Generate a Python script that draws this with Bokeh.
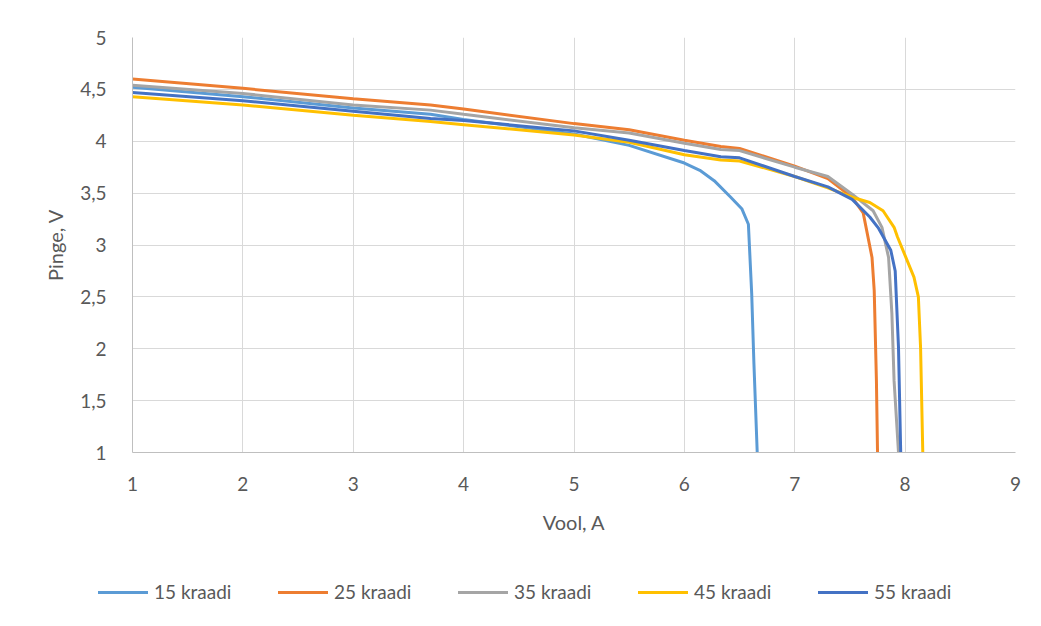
from bokeh.plotting import figure
from bokeh.models import FixedTicker, Range1d, Div
from bokeh.layouts import column
from bokeh.embed import file_html
from bokeh.resources import INLINE

series_names = ["15 kraadi", "25 kraadi", "35 kraadi", "45 kraadi", "55 kraadi"]
colors = ["#5B9BD5", "#ED7D31", "#A5A5A5", "#FFC000", "#4472C4"]

x15 = [1, 2, 3, 3.7, 4, 5, 5.5, 6, 6.14, 6.27, 6.42, 6.52, 6.58, 6.61, 6.63, 6.66]
y15 = [4.52, 4.43, 4.32, 4.26, 4.21, 4.07, 3.96, 3.79, 3.72, 3.62, 3.46, 3.35, 3.20, 2.53, 1.86, 1.0]

x25 = [1, 2, 3, 3.7, 4, 5, 5.5, 6, 6.33, 6.5, 7, 7.3, 7.52, 7.62, 7.70, 7.72, 7.74, 7.75]
y25 = [4.60, 4.51, 4.41, 4.35, 4.31, 4.17, 4.11, 4.01, 3.95, 3.93, 3.76, 3.64, 3.46, 3.31, 2.88, 2.56, 1.69, 1.0]

x35 = [1, 2, 3, 3.7, 4, 5, 5.5, 6, 6.33, 6.5, 7, 7.3, 7.52, 7.71, 7.79, 7.85, 7.88, 7.90, 7.94]
y35 = [4.54, 4.46, 4.35, 4.30, 4.26, 4.13, 4.08, 3.98, 3.92, 3.91, 3.75, 3.66, 3.49, 3.33, 3.17, 2.88, 2.34, 1.69, 1.0]

x45 = [1, 2, 3, 3.7, 4, 5, 5.5, 6, 6.33, 6.5, 7, 7.3, 7.52, 7.68, 7.80, 7.90, 7.93, 8.08, 8.12, 8.14, 8.16]
y45 = [4.43, 4.35, 4.25, 4.19, 4.16, 4.06, 3.99, 3.87, 3.82, 3.81, 3.66, 3.55, 3.46, 3.41, 3.33, 3.17, 3.08, 2.69, 2.50, 2.01, 1.0]

x55 = [1, 2, 3, 3.7, 4, 5, 5.5, 6, 6.33, 6.5, 7, 7.3, 7.52, 7.68, 7.76, 7.87, 7.91, 7.94, 7.96]
y55 = [4.47, 4.39, 4.29, 4.22, 4.20, 4.10, 4.01, 3.91, 3.85, 3.84, 3.66, 3.56, 3.44, 3.27, 3.16, 2.95, 2.75, 2.01, 1.0]

x_ticks = [1, 2, 3, 4, 5, 6, 7, 8, 9]
y_ticks = [1, 1.5, 2, 2.5, 3, 3.5, 4, 4.5, 5]
y_tick_labels = ["1", "1,5", "2", "2,5", "3", "3,5", "4", "4,5", "5"]

FONT = "Lato"
TXT = "#595959"

p = figure(width=1041, height=540, output_backend="svg", toolbar_location=None,
           x_range=Range1d(1, 9), y_range=Range1d(1, 5),
           min_border_left=132, min_border_right=26, min_border_top=37, min_border_bottom=88)
p.outline_line_color = None
p.background_fill_color = "white"
p.border_fill_color = "white"

for ax in (p.xaxis[0], p.yaxis[0]):
    ax.axis_line_color = "#bfbfbf"
    ax.axis_line_width = 1
    ax.major_tick_line_color = None
    ax.minor_tick_line_color = None
    ax.major_label_text_font = FONT
    ax.major_label_text_font_size = "19px"
    ax.major_label_text_color = TXT
    ax.axis_label_text_font = FONT
    ax.axis_label_text_font_size = "20px"
    ax.axis_label_text_font_style = "normal"
    ax.axis_label_text_color = TXT

p.xaxis.ticker = FixedTicker(ticks=x_ticks)
p.yaxis.ticker = FixedTicker(ticks=y_ticks)
p.yaxis.major_label_overrides = {t: l for t, l in zip(y_ticks, y_tick_labels)}
p.xaxis.axis_label = "Vool, A"
p.yaxis.axis_label = "Pinge, V"
p.xaxis.major_label_standoff = 18
p.yaxis.major_label_standoff = 20
p.xaxis.axis_label_standoff = 16
p.yaxis.axis_label_standoff = 10

p.xgrid.grid_line_color = "#d9d9d9"
p.ygrid.grid_line_color = "#d9d9d9"
p.xgrid.grid_line_width = 1
p.ygrid.grid_line_width = 1

xs = [x15, x25, x35, x45, x55]
ys = [y15, y25, y35, y45, y55]
for c, xv, yv in zip(colors, xs, ys):
    p.line(xv, yv, line_color=c, line_width=3)

# legend strip below the chart, as real HTML text
parts = []
for i, (name, c) in enumerate(zip(series_names, colors)):
    parts.append(
        f'<div style="position:absolute;left:{98 + 180 * i}px;top:40px;height:24px;'
        f'display:flex;align-items:center;white-space:nowrap;">'
        f'<span style="display:inline-block;width:50px;height:3px;background:{c};margin-right:6px;"></span>'
        f'<span>{name}</span></div>'
    )
legend_html = (f'<div style="position:relative;width:1041px;height:86px;background:white;'
               f'font-family:{FONT};font-size:19px;color:{TXT};line-height:24px;">'
               + "".join(parts) + '</div>')
legend_div = Div(text=legend_html, width=1041, height=86, margin=0)

layout = column(p, legend_div, spacing=0)
open("out.html", "w").write(file_html(layout, INLINE))
